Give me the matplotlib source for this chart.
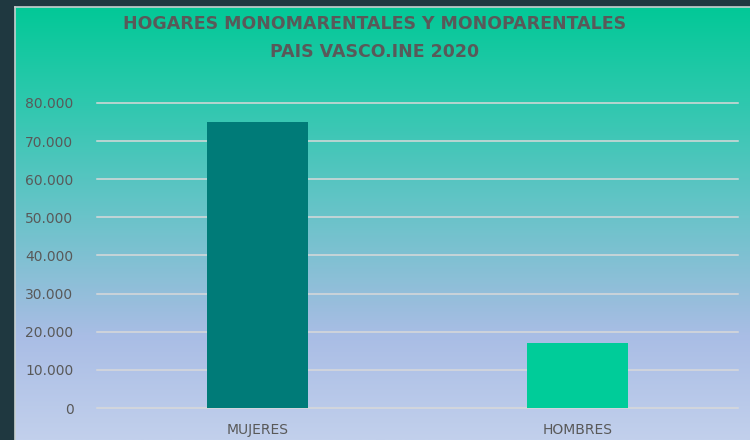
import numpy as np
import matplotlib.pyplot as plt
from matplotlib.colors import LinearSegmentedColormap
from matplotlib.ticker import FuncFormatter

categories = ["MUJERES", "HOMBRES"]
hogares = [75000, 17000]
bar_colors = ["#007b78", "#00cc99"]
title = "HOGARES MONOMARENTALES Y MONOPARENTALES\nPAIS VASCO.INE 2020"

W, H = 750, 440
fig = plt.figure(figsize=(W / 100, H / 100), dpi=100)
fig.patch.set_facecolor("#1f3840")

# gradient panel behind the chart
px0, py0 = 15, 7
bg = fig.add_axes([px0 / W, 0, 1 - px0 / W, 1 - py0 / H])
grad = LinearSegmentedColormap.from_list(
    "bg", [(0.0, "#02c997"), (0.22, "#2ec8ae"), (0.45, "#62c4c6"),
           (0.68, "#97bedc"), (0.76, "#a9bde5"), (1.0, "#c2d0ec")])
bg.imshow(np.linspace(0, 1, 256).reshape(-1, 1), aspect="auto", cmap=grad,
          extent=[0, 1, 0, 1], origin="upper")
bg.set_xlim(0, 1)
bg.set_ylim(0, 1)
bg.axis("off")
fig.add_artist(plt.Line2D([px0 / W, 1], [1 - py0 / H, 1 - py0 / H],
                          color="#c8d0d0", lw=1.2, transform=fig.transFigure))
fig.add_artist(plt.Line2D([px0 / W, px0 / W], [0, 1 - py0 / H],
                          color="#c8d0d0", lw=1.2, transform=fig.transFigure))

# main axes
left, right, bottom, top = 97, 738, 408, 103
ax = fig.add_axes([left / W, 1 - bottom / H, (right - left) / W, (bottom - top) / H])
ax.patch.set_alpha(0)
x = np.arange(len(categories))
ax.bar(x, hogares, width=0.315, color=bar_colors, zorder=3)
ax.set_xlim(-0.5, len(categories) - 0.5)
ax.set_ylim(0, 80000)
ax.set_yticks(np.arange(0, 80001, 10000))
ax.yaxis.set_major_formatter(FuncFormatter(lambda v, p: f"{int(v):,}".replace(",", ".")))
ax.set_xticks(x)
ax.set_xticklabels(categories)
ax.grid(axis="y", color="#d9d9d9", lw=1.1, zorder=0)
for gl in ax.get_ygridlines():
    gl.set_clip_on(False)
ax.tick_params(length=0, colors="#595959", labelsize=10)
ax.tick_params(axis="y", pad=17)
ax.tick_params(axis="x", pad=11)
for s in ax.spines.values():
    s.set_visible(False)

fig.text(0.5, 1 - 38 / H, title, ha="center", va="center", color="#595959",
         fontsize=12.5, fontweight="bold", linespacing=1.75,
         family=["Liberation Sans Narrow", "DejaVu Sans"])

fig.savefig("out.png", dpi=100, facecolor=fig.get_facecolor())
